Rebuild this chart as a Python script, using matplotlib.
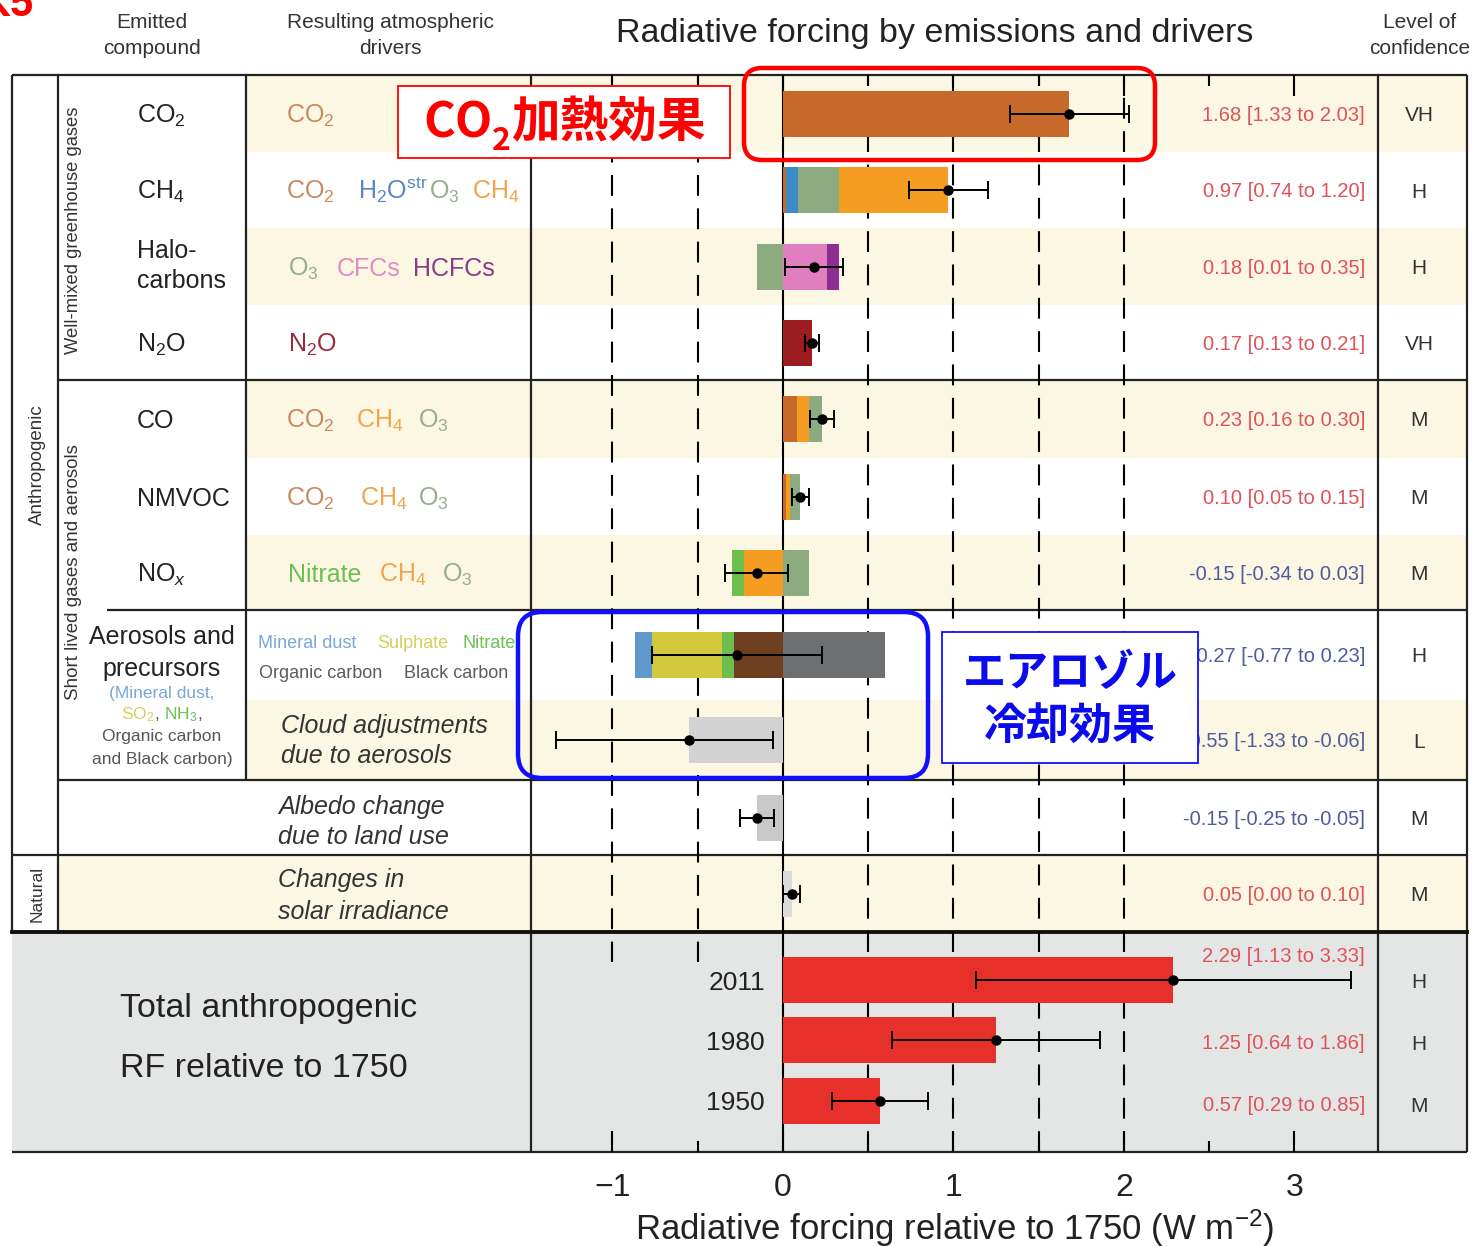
import matplotlib
matplotlib.use("Agg")
import matplotlib.pyplot as plt
from matplotlib.patches import Rectangle, FancyBboxPatch
from matplotlib.transforms import Bbox
import numpy as np

plt.rcParams["font.family"] = ["Liberation Sans", "DejaVu Sans"]
plt.rcParams["mathtext.fontset"] = "custom"
plt.rcParams["mathtext.rm"] = "Liberation Sans"
plt.rcParams["mathtext.it"] = "Liberation Sans:italic"
plt.rcParams["mathtext.bf"] = "Liberation Sans:bold"
JP = ["Noto Sans CJK JP", "DejaVu Sans"]

# radiative forcing by emitted compound (W m-2): best estimate and range
compounds = ["CO2", "CH4", "Halocarbons", "N2O", "CO", "NMVOC", "NOx",
             "Aerosols", "Cloud", "Albedo", "Solar"]
rf_best = [1.68, 0.97, 0.18, 0.17, 0.23, 0.10, -0.15, -0.27, -0.55, -0.15, 0.05]
rf_low = [1.33, 0.74, 0.01, 0.13, 0.16, 0.05, -0.34, -0.77, -1.33, -0.25, 0.00]
rf_high = [2.03, 1.20, 0.35, 0.21, 0.30, 0.15, 0.03, 0.23, -0.06, -0.05, 0.10]
confidence = ["VH", "H", "H", "VH", "M", "M", "M", "H", "L", "M", "M"]

# share of each atmospheric driver, stacked outward from zero
contributions = [
    [("CO2", 1.68)],
    [("CO2", 0.02), ("H2Ostr", 0.07), ("O3", 0.24), ("CH4", 0.64)],
    [("O3", -0.15), ("CFCs", 0.26), ("HCFCs", 0.07)],
    [("N2O", 0.17)],
    [("CO2", 0.08), ("CH4", 0.07), ("O3", 0.08)],
    [("CO2", 0.02), ("CH4", 0.02), ("O3", 0.06)],
    [("CH4", -0.23), ("Nitrate", -0.07), ("O3", 0.15)],
    [("Organic carbon", -0.29), ("Nitrate", -0.07), ("Sulphate", -0.41),
     ("Mineral dust", -0.10), ("Black carbon", 0.60)],
    [("Cloud", -0.55)],
    [("Albedo", -0.15)],
    [("Solar", 0.05)],
]

years = ["2011", "1980", "1950"]
total_best = [2.29, 1.25, 0.57]
total_low = [1.13, 0.64, 0.29]
total_high = [3.33, 1.86, 0.85]
total_conf = ["H", "H", "M"]

driver_colors = {
    "CO2": "#c7692b", "H2Ostr": "#3d8cc8", "O3": "#8cab80", "CH4": "#f59d22",
    "CFCs": "#e07ec0", "HCFCs": "#8d2f92", "N2O": "#9c1c22",
    "Nitrate": "#6cbf4c", "Mineral dust": "#5f98cb", "Sulphate": "#d2c83c",
    "Organic carbon": "#6d3f1e", "Black carbon": "#6e6f71",
    "Cloud": "#d2d2d2", "Albedo": "#c9c9c9", "Solar": "#dadada",
}
text_colors = {
    "CO2": "#c98a60", "H2O": "#5a86c4", "O3": "#97ae90", "CH4": "#f0a54a",
    "CFCs": "#e38cbf", "HCFCs": "#8a3a86", "N2O": "#9c2a3a",
    "Nitrate": "#6cc050", "dust": "#7aa6d8", "SO2": "#d6cf5a",
    "carbon": "#5c5c5c",
}

W, H = 1483, 1246
row_edges = [75, 152, 228, 305, 380, 458, 535, 610, 700, 780, 855, 932]
row_y = [(a + b) / 2 for a, b in zip(row_edges[:-1], row_edges[1:])]
year_y = [980, 1040, 1101]
bar_h = 46
X0, X1 = 531, 1378          # plot column in pixels
XMIN, XMAX = -1.478, 3.49   # forcing range shown across it

fig = plt.figure(figsize=(W / 100, H / 100), dpi=100)
renderer = fig.canvas.get_renderer()
tab = fig.add_axes([0, 0, 1, 1])
tab.set_xlim(0, W)
tab.set_ylim(H, 0)
tab.axis("off")

# row shading
for i in [0, 2, 4, 6, 8]:
    tab.add_patch(Rectangle((246, row_edges[i]), 1467 - 246,
                            row_edges[i + 1] - row_edges[i],
                            color="#fcf7e3", lw=0, zorder=0))
tab.add_patch(Rectangle((58, 855), 1467 - 58, 77, color="#fcf7e3", lw=0, zorder=0))
tab.add_patch(Rectangle((12, 932), 1467 - 12, 1152 - 932, color="#e4e6e6", lw=0, zorder=0))

# table grid
grid = [
    ((12, 1467), (75, 75)), ((12, 12), (75, 932)), ((58, 58), (75, 932)),
    ((246, 246), (75, 780)), ((X0, X0), (75, 1152)), ((X1, X1), (75, 1152)),
    ((1467, 1467), (75, 1152)), ((58, 1467), (380, 380)),
    ((107, 1467), (610, 610)), ((58, 1467), (780, 780)),
    ((12, 1467), (855, 855)), ((12, 1467), (1152, 1152)),
]
for xs, ys in grid:
    tab.plot(xs, ys, color="#222222", lw=1.6, zorder=5, solid_capstyle="butt")
tab.plot((12, 1467), (932, 932), color="#111111", lw=2.8, zorder=5)


def label(x, yc, s, size, color="#222222", ha="left", **kw):
    base = yc + 0.36 * size * 100 / 72
    return tab.text(x, base, s, fontsize=size, color=color, ha=ha,
                    va="baseline", zorder=6, **kw)


def label_runs(xc, yc, parts, size):
    # several coloured pieces on one line, centred on xc
    texts = [label(0, yc, s, size, col) for s, col in parts]
    widths = [t.get_window_extent(renderer=renderer).width for t in texts]
    x = xc - sum(widths) / 2
    for t, w in zip(texts, widths):
        t.set_x(x)
        x += w


# headers and title
for x, lines in [(152, ["Emitted", "compound"]),
                 (390, ["Resulting atmospheric", "drivers"]),
                 (1420, ["Level of", "confidence"])]:
    label(x, 20, lines[0], 15, "#333333", ha="center")
    label(x, 47, lines[1], 15, "#333333", ha="center")
label(935, 30, "Radiative forcing by emissions and drivers", 24.5, "#222222", ha="center")

# vertical group labels
tab.text(37, 465, "Anthropogenic", rotation=90, fontsize=13.5, color="#333333",
         ha="center", va="center")
tab.text(37, 894, "Natural", rotation=90, fontsize=12.5, color="#333333",
         ha="center", va="center")
tab.text(74, 230, "Well-mixed greenhouse gases", rotation=90, fontsize=13.2,
         color="#333333", ha="center", va="center")
tab.text(74, 572, "Short lived gases and aerosols", rotation=90, fontsize=13.5,
         color="#333333", ha="center", va="center")

# emitted compounds
compound_labels = [("CO$_2$", 0), ("CH$_4$", 1), ("N$_2$O", 3), ("CO", 4),
                   ("NMVOC", 5), ("NO$_x$", 6)]
for s, i in compound_labels:
    label(137, row_y[i], s, 18)
label(137, 249, "Halo-", 18)
label(137, 279, "carbons", 18)
label(162, 635, "Aerosols and", 18, ha="center")
label(162, 667, "precursors", 18, ha="center")
label(162, 692, "(Mineral dust,", 12.5, text_colors["dust"], ha="center")
label_runs(162, 713, [("SO$_2$", text_colors["SO2"]), (", ", "#555555"),
                      ("NH$_3$", text_colors["Nitrate"]), (",", "#555555")], 12.5)
label(162, 735, "Organic carbon", 12.5, "#555555", ha="center")
label(162, 758, "and Black carbon)", 12.5, "#555555", ha="center")

# resulting atmospheric drivers
c = text_colors
driver_text = [
    (0, [(286, "CO$_2$", c["CO2"])]),
    (1, [(286, "CO$_2$", c["CO2"]), (358, "H$_2$O$^{\\rm str}$", c["H2O"]),
         (429, "O$_3$", c["O3"]), (472, "CH$_4$", c["CH4"])]),
    (2, [(288, "O$_3$", c["O3"]), (337, "CFCs", c["CFCs"]), (413, "HCFCs", c["HCFCs"])]),
    (3, [(288, "N$_2$O", c["N2O"])]),
    (4, [(286, "CO$_2$", c["CO2"]), (356, "CH$_4$", c["CH4"]), (418, "O$_3$", c["O3"])]),
    (5, [(286, "CO$_2$", c["CO2"]), (360, "CH$_4$", c["CH4"]), (418, "O$_3$", c["O3"])]),
    (6, [(288, "Nitrate", c["Nitrate"]), (379, "CH$_4$", c["CH4"]), (442, "O$_3$", c["O3"])]),
]
for i, parts in driver_text:
    for x, s, col in parts:
        label(x, row_y[i], s, 18, col)

clip = Bbox([[246, 0], [516, H]])
for x, y, s, col in [(258, 641, "Mineral dust", c["dust"]),
                     (377, 641, "Sulphate", c["SO2"]),
                     (463, 641, "Nitrate", c["Nitrate"]),
                     (259, 671, "Organic carbon", c["carbon"]),
                     (404, 671, "Black carbon", c["carbon"])]:
    t = label(x, y, s, 13, col)
    t.set_clip_box(clip)
    t.set_clip_on(True)

for x, y, s in [(281, 724, "Cloud adjustments"), (281, 754, "due to aerosols"),
                (278, 805, "Albedo change"), (278, 835, "due to land use"),
                (278, 878, "Changes in"), (278, 910, "solar irradiance")]:
    label(x, y, s, 18, "#333333", style="italic")

label(120, 1005, "Total anthropogenic", 24.5)
label(120, 1065, "RF relative to 1750", 24.5)
for y, s in zip(year_y, years):
    label(765, y, s, 19, ha="right")

# value and confidence columns
def value_text(b, lo, hi):
    return f"{b:.2f} [{lo:.2f} to {hi:.2f}]"


for i in range(len(compounds)):
    col = "#e0525a" if rf_best[i] > 0 else "#4f5c9c"
    label(1365, row_y[i], value_text(rf_best[i], rf_low[i], rf_high[i]), 14.5, col, ha="right")
    label(1419, row_y[i], confidence[i], 15, "#333333", ha="center")
for y, vy, b, lo, hi, cf in zip(year_y, [955, 1042, 1104], total_best, total_low,
                                total_high, total_conf):
    label(1365, vy, value_text(b, lo, hi), 14.5, "#e0525a", ha="right")
    label(1419, vy if y != year_y[0] else y, cf, 15, "#333333", ha="center")

# forcing bars
ax = fig.add_axes([X0 / W, 1 - 1152 / H, (X1 - X0) / W, (1152 - 75) / H])
ax.patch.set_alpha(0)
ax.set_xlim(XMIN, XMAX)
ax.set_ylim(1152, 75)
for s in ax.spines.values():
    s.set_visible(False)
ax.axvline(0, color="black", lw=1.5, zorder=1)
for v in [0.5, 1, 1.5, 2]:
    ax.axvline(v, color="black", lw=1.5, ls=(0, (10, 6)), zorder=1)
# the negative guides stop just inside the totals block
for v in [-1, -0.5]:
    ax.plot([v, v], [75, 962], color="black", lw=1.5, ls=(0, (10, 6)), zorder=1)

for y, parts in zip(row_y, contributions):
    pos = neg = 0.0
    for name, v in parts:
        left = pos if v >= 0 else neg
        ax.barh(y, v, left=left, height=bar_h, color=driver_colors[name], lw=0, zorder=2)
        if v >= 0:
            pos += v
        else:
            neg += v

b = np.array(rf_best)
ax.errorbar(b, row_y, xerr=[b - np.array(rf_low), np.array(rf_high) - b],
            fmt="o", ms=6.5, color="black", elinewidth=1.4, capsize=6.5,
            capthick=1.4, zorder=4)

ax.barh(year_y, total_best, height=bar_h, color="#e8302a", lw=0, zorder=2)
tb = np.array(total_best)
ax.errorbar(tb, year_y, xerr=[tb - np.array(total_low), np.array(total_high) - tb],
            fmt="o", ms=6.5, color="black", elinewidth=1.4, capsize=6.5,
            capthick=1.4, zorder=4)

ax.set_yticks([])
ax.set_xticks([-1, 0, 1, 2, 3])
ax.set_xticklabels(["\u22121", "0", "1", "2", "3"], fontsize=23, color="#222222")
ax.set_xticks([-0.5, 0.5, 1.5, 2.5], minor=True)
ax.tick_params(axis="x", which="major", direction="in", length=15, width=1.5,
               top=True, pad=15)
ax.tick_params(axis="x", which="minor", direction="in", length=8, width=1.5, top=True)
tab.text(955, 1228, "Radiative forcing relative to 1750 (W m$^{-2}$)", fontsize=25,
         color="#222222", ha="center", va="center")

# highlight overlays
top = fig.add_axes([0, 0, 1, 1])
top.set_xlim(0, W)
top.set_ylim(H, 0)
top.axis("off")
top.patch.set_alpha(0)

top.text(33, 16, "K5", fontsize=30, color="#ff0000", weight="bold", ha="right",
         va="baseline")
top.add_patch(FancyBboxPatch((744, 68), 411, 92, boxstyle="round,pad=0,rounding_size=18",
                             fill=False, ec="#ff0000", lw=3.2))
top.add_patch(Rectangle((398, 86), 332, 72, fc="white", ec="#ff0000", lw=1.3))
top.add_patch(FancyBboxPatch((518, 612), 410, 166, boxstyle="round,pad=0,rounding_size=24",
                             fill=False, ec="#1010ff", lw=3.2))
top.add_patch(Rectangle((942, 632), 256, 131, fc="white", ec="#1010ff", lw=1.3))

x = 423
for s, size, dy in [("CO", 35, 0), ("2", 23, 18), ("加熱効果", 35, 0)]:
    t = top.text(x, 123 + dy, s, fontsize=size, color="#ff0000", weight="bold",
                 family=JP, ha="left", va="center")
    x += t.get_window_extent(renderer=renderer).width
top.text(1070, 673, "エアロゾル", fontsize=31, color="#0a0aee", weight="bold",
         family=JP, ha="center", va="center")
top.text(1070, 727, "冷却効果", fontsize=31, color="#0a0aee", weight="bold",
         family=JP, ha="center", va="center")

fig.savefig("out.png", dpi=100)
